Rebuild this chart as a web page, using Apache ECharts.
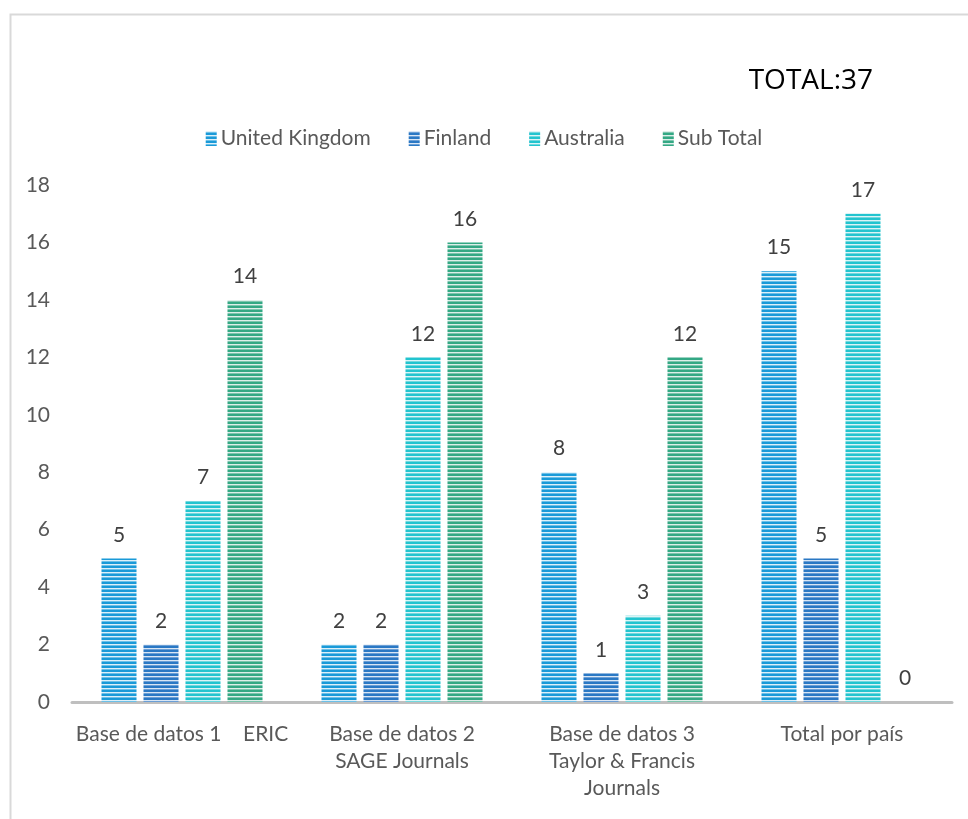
<!DOCTYPE html>
<html>
<head>
<meta charset="utf-8">
<script src="https://cdn.jsdelivr.net/npm/echarts@6/dist/echarts.min.js"></script>
<style>
html,body{margin:0;padding:0;background:#fff;}
#c{width:968px;height:819px;}
</style>
</head>
<body>
<div id="c"></div>
<script>
var categories = ['Base de datos 1    ERIC', 'Base de datos 2\nSAGE Journals', 'Base de datos 3\nTaylor & Francis\nJournals', 'Total por país'];
var seriesNames = ['United Kingdom', 'Finland', 'Australia', 'Sub Total'];
var ukValues = [5, 2, 8, 15];
var finlandValues = [2, 2, 1, 5];
var australiaValues = [7, 12, 3, 17];
var subTotalValues = [14, 16, 12, 0];
var yTicks = [0, 2, 4, 6, 8, 10, 12, 14, 16, 18];
var totalText = 'TOTAL:37';

function stripe(dark, mid, light) {
  var cv = document.createElement('canvas');
  cv.width = 4; cv.height = 4;
  var ctx = cv.getContext('2d');
  ctx.fillStyle = light; ctx.fillRect(0, 0, 4, 1);
  ctx.fillStyle = mid; ctx.fillRect(0, 1, 4, 1);
  ctx.fillStyle = dark; ctx.fillRect(0, 2, 4, 2);
  return {image: cv, repeat: 'repeat'};
}
var styles = [
  {fill: stripe('#1a9ad8', '#6cc0e8', '#dcf0f9')},
  {fill: stripe('#2a78c4', '#6b9fd6', '#d8e6f5')},
  {fill: stripe('#22c4cf', '#72d8de', '#dbf4f6')},
  {fill: stripe('#33a884', '#7cc5ae', '#dcefe9')}
];
var valueArrays = [ukValues, finlandValues, australiaValues, subTotalValues];

var font = 'Lato, "Open Sans", sans-serif';
var chart = echarts.init(document.getElementById('c'));
chart.setOption({
  backgroundColor: '#ffffff',
  animation: false,
  graphic: [{
    type: 'rect', left: 8, top: 12, shape: {x: 0, y: 0, width: 1000, height: 900},
    style: {fill: 'none', stroke: '#d9d9d9', lineWidth: 2}, z: -1
  }],
  title: {
    text: totalText, right: 90, top: 62,
    textStyle: {fontFamily: '"Open Sans", sans-serif', fontSize: 28, fontWeight: 'normal', color: '#000000'}
  },
  legend: {
    data: seriesNames, top: 123, left: 'center',
    icon: 'rect', itemWidth: 11, itemHeight: 15, itemGap: 38,
    textStyle: {fontFamily: font, fontSize: 21, color: '#595959', padding: [0, 0, 0, -1]}
  },
  grid: {left: 72, right: 16, top: 185, bottom: 117, containLabel: false},
  xAxis: {
    type: 'category', data: categories,
    axisLine: {lineStyle: {color: '#bfbfbf', width: 3}},
    axisTick: {show: false},
    axisLabel: {fontFamily: font, fontSize: 21, color: '#595959', lineHeight: 27, margin: 19, interval: 0}
  },
  yAxis: {
    type: 'value', min: 0, max: 18, interval: 2,
    axisLine: {show: false}, axisTick: {show: false}, splitLine: {show: false},
    axisLabel: {fontFamily: font, fontSize: 21, color: '#595959', margin: 22}
  },
  series: seriesNames.map(function (n, i) {
    return {
      name: n, type: 'bar', data: valueArrays[i],
      barWidth: 35, barGap: '20%',
      itemStyle: {color: styles[i].fill},
      label: {show: true, position: 'top', distance: 13, fontFamily: font, fontSize: 21, color: '#404040'}
    };
  })
});
</script>
</body>
</html>
